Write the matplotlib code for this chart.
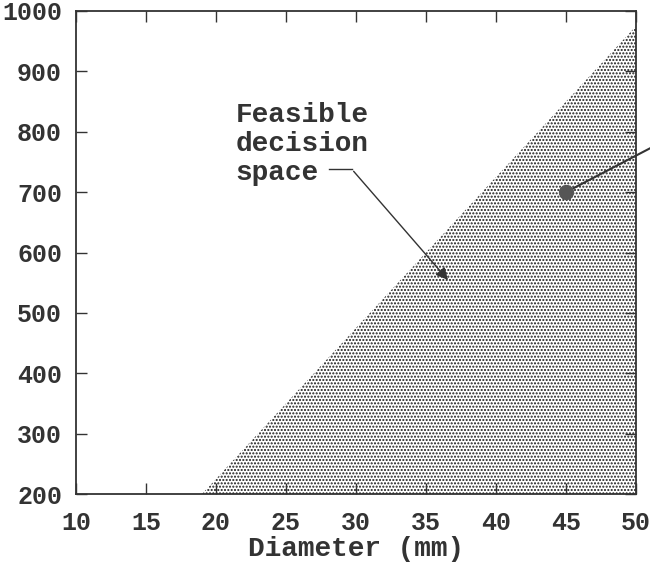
import matplotlib
matplotlib.use("Agg")
import matplotlib.pyplot as plt

# Data
x_ticks = [10, 15, 20, 25, 30, 35, 40, 45, 50]
y_ticks = [200, 300, 400, 500, 600, 700, 800, 900, 1000]
boundary_x = [19, 50]          # constraint line (diameter)
boundary_y = [200, 975]        # constraint line (value)
point_x = [45]
point_y = [700]
feasible_label = "Feasible\ndecision\nspace"
x_label = "Diameter (mm)"

plt.rcParams['font.family'] = ['Liberation Mono', 'DejaVu Sans']
plt.rcParams['font.weight'] = 'bold'
plt.rcParams['hatch.linewidth'] = 1.0

fig = plt.figure(figsize=(6.5, 5.63), dpi=100)
ax = fig.add_axes([76/650, 1-494/563, 560/650, 483/563])

ax.set_xlim(10, 50)
ax.set_ylim(200, 1000)

# Feasible region (below constraint line)
poly_x = [boundary_x[0], boundary_x[1], boundary_x[1]]
poly_y = [boundary_y[0], boundary_y[1], y_ticks[0]]
ax.fill(poly_x, poly_y, facecolor='white', edgecolor='#1a1a1a', hatch='.....',
        linewidth=0)

# Design point with leader line
ax.plot(point_x, point_y, 'o', color='#555555', markersize=10, zorder=5)
ax.annotate('', xy=(point_x[0], point_y[0]), xytext=(51.2, 775),
            arrowprops=dict(arrowstyle='-', color='#333333', lw=1.5),
            annotation_clip=False)

# Feasible space label
ax.text(21.4, 850, feasible_label, fontsize=20, fontweight='bold',
        ha='left', va='top', linespacing=1.15, color='#333333')
ax.annotate('', xy=(36.7, 551), xytext=(29.7, 738),
            arrowprops=dict(arrowstyle='-|>', color='#333333', lw=1.0,
                            mutation_scale=18))
ax.plot([28.1, 29.7], [738, 738], color='#333333', lw=1.0)

ax.set_xticks(x_ticks)
ax.set_yticks(y_ticks)
ax.tick_params(direction='in', length=8, width=1.0, top=True, right=True,
               labelsize=18, colors='#333333')
ax.tick_params(axis='y', pad=10)
ax.tick_params(axis='x', pad=12)
for lab in ax.get_xticklabels() + ax.get_yticklabels():
    lab.set_fontweight('bold')
for s in ax.spines.values():
    s.set_linewidth(1.3)
    s.set_color('#333333')

ax.set_xlabel(x_label, fontsize=20, fontweight='bold', color='#333333')
ax.xaxis.set_label_coords(0.5, -0.087)

fig.savefig('out.png', dpi=100)
